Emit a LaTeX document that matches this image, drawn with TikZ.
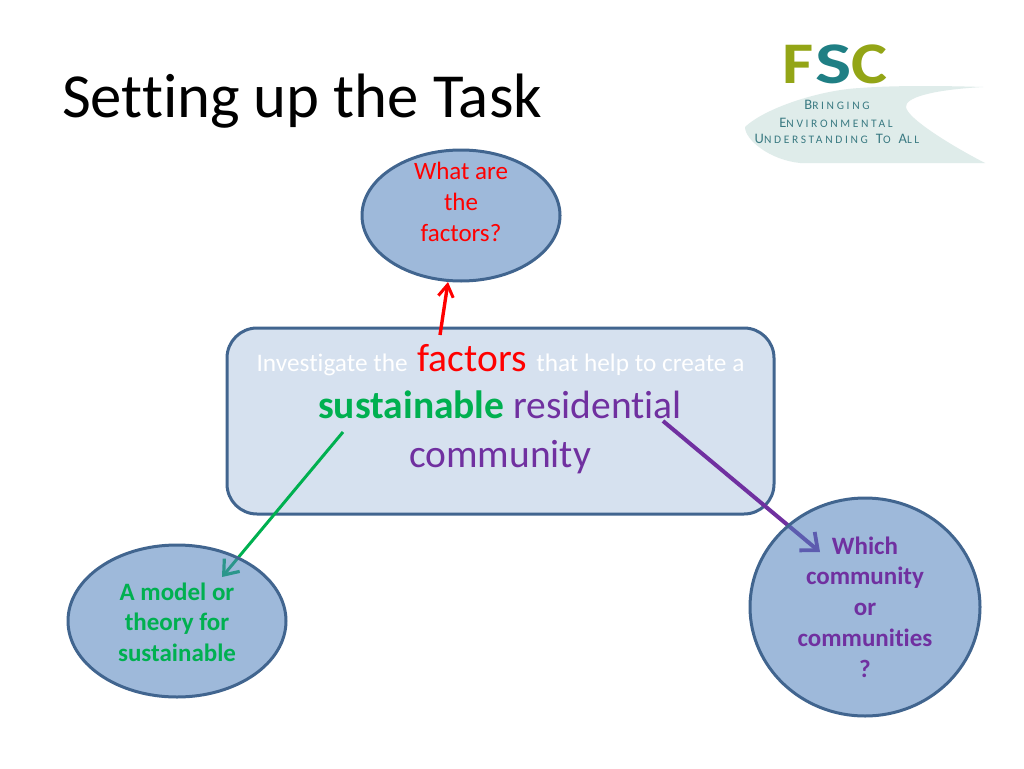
\documentclass[tikz,border=0pt]{standalone}
\usepackage{fontspec}
\setmainfont{Carlito}[Ligatures=NoCommon]
\usetikzlibrary{arrows.meta,shapes.geometric}
\pgfdeclarelayer{back}
\pgfdeclarelayer{arrowlayer}
\pgfsetlayers{back,arrowlayer,main}
\definecolor{boxfill}{HTML}{D6E1EF}
\definecolor{ellbase}{HTML}{4F81BD}
\definecolor{edgeblue}{HTML}{41658F}
\definecolor{fscred}{HTML}{FF0000}
\definecolor{fscgreen}{HTML}{00B050}
\definecolor{fscpurple}{HTML}{7030A0}
\definecolor{olive}{HTML}{93A516}
\definecolor{teal2}{HTML}{1F7F84}
\definecolor{swoosh}{HTML}{DFECEA}
\definecolor{logotext}{HTML}{3A7A82}
\newcommand{\fsz}[2]{\fontsize{#1}{#2}\selectfont}
\newcommand{\logoline}[2]{{\fsz{14.5}{15}\addfontfeature{LetterSpace=10}#1}{\fsz{11.5}{15}\addfontfeature{LetterSpace=23}#2}}
\tikzset{
  x=1pt,y=-1pt,
  bubble/.style={ellipse,draw=edgeblue,line width=3pt,fill=ellbase,fill opacity=.55,inner sep=0pt,align=center},
  bubbletext/.style={align=center,inner sep=0pt,anchor=center},
  logoletter/.style={anchor=base,inner sep=0pt,font=\fsz{59}{59}\bfseries},
  logotextnode/.style={anchor=base,inner sep=0pt,text=logotext},
  redconn/.style={line width=3.4pt,draw=fscred,-{Straight Barb[length=12pt,width=15pt,line width=3pt]}},
  greenconn/.style={line width=3pt,draw=fscgreen,-{Straight Barb[length=13pt,width=20pt,line width=3.2pt]}},
  purpleconn/.style={line width=4pt,draw=fscpurple,-{Straight Barb[length=14pt,width=24pt,line width=3.8pt]}},
}
\begin{document}
\begin{tikzpicture}
\useasboundingbox (0,0) rectangle (1024,768);
\begin{pgfonlayer}{back}
\fill[white] (0,0) rectangle (1024,768);
% main box
\node[draw=edgeblue,line width=3pt,fill=boxfill,rounded corners=30pt,minimum width=547pt,minimum height=186pt,inner sep=0pt] (main) at (500.5,421) {};
\node[inner sep=0pt,anchor=base] (mainline1) at (500.5,371.5) {\textcolor{white}{\fsz{25.3}{26}Investigate the }\hspace{4pt}\textcolor{fscred}{\fsz{39.5}{44}factors}\hspace{4pt}\textcolor{white}{\fsz{25.3}{26} that help to create a}};
\node[inner sep=0pt,anchor=base] (mainline2) at (500,418) {\fsz{39.5}{44}\textcolor{fscgreen}{\bfseries sustainable} \textcolor{fscpurple}{residential}};
\node[inner sep=0pt,anchor=base] (mainline3) at (500,467) {\fsz{39.5}{44}\textcolor{fscpurple}{community}};
\end{pgfonlayer}
% title
\node[anchor=base west,inner sep=0pt] (title) at (62,117) {\fsz{62.7}{63}Setting up the Task};
% logo
\fill[swoosh] (745,127) .. controls (765,108) and (820,90) .. (860,88)
  .. controls (900,85) and (950,86) .. (983,87)
  .. controls (930,90) and (905,98) .. (906,107)
  .. controls (907,118) and (950,145) .. (985,163)
  -- (800,163) .. controls (770,160) and (745,140) .. (745,127) -- cycle;
\node[logoletter,text=olive,xscale=1.15] (logoF) at (798,83) {F};
\node[logoletter,text=teal2,xscale=1.3] (logoS) at (834,83) {S};
\node[logoletter,text=olive,xscale=1.15] (logoC) at (869,83) {C};
\node[logotextnode] (logo1) at (837,109) {\logoline{B}{RINGING}};
\node[logotextnode] (logo2) at (836,127) {\logoline{E}{NVIRONMENTAL}};
\node[logotextnode] (logo3) at (837,143) {\logoline{U}{NDERSTANDING}\hspace{8pt}\logoline{T}{O}\hspace{8pt}\logoline{A}{LL}};
% bubbles
\node[bubble,minimum width=198pt,minimum height=131pt] (top) at (461,215.5) {};
\node[bubble,minimum width=218pt,minimum height=152pt] (left) at (177,621) {};
\node[bubble,minimum width=230pt,minimum height=218pt] (right) at (865,607) {};
\node[bubbletext,text=fscred,font=\fsz{25}{31}] (toptext) at (461,202) {What are\\the\\factors?};
\node[bubbletext,text=fscgreen,font=\fsz{25}{30.5}\bfseries] (lefttext) at (177,622) {A model or\\theory for\\sustainable};
\node[bubbletext,text=fscpurple,font=\fsz{25}{30.7}\bfseries] (righttext) at (865,607) {Which\\community\\or\\communities\\?};
% connectors, beneath the translucent bubbles
\begin{pgfonlayer}{arrowlayer}
\draw[redconn] ([shift={(-60.5,-86)}]main.center) -- ([shift={(-13,66.5)}]top.center);
\draw[greenconn] ([shift={(-157.5,11)}]main.center) -- ([shift={(45,-44)}]left.center);
\draw[purpleconn] ([shift={(162.5,0)}]main.center) -- ([shift={(-45,-55)}]right.center);
\end{pgfonlayer}
\end{tikzpicture}
\end{document}
